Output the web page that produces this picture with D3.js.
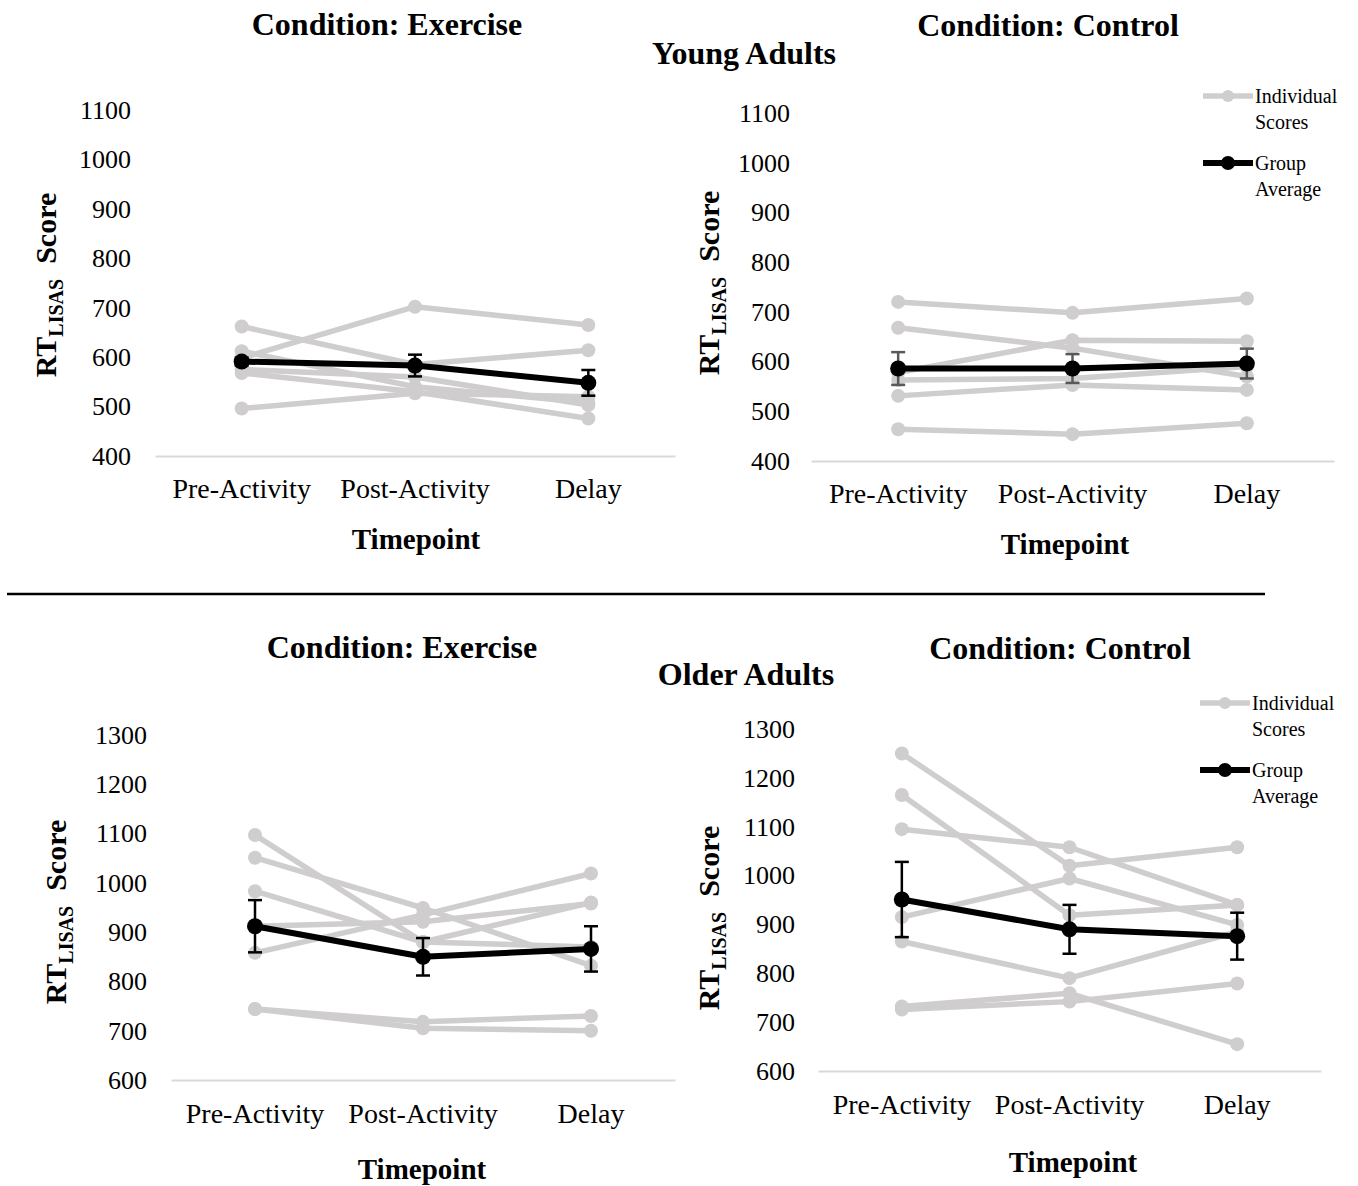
<!DOCTYPE html>
<html>
<head>
<meta charset="utf-8">
<script src="https://cdn.jsdelivr.net/npm/d3@7"></script>
<style>
  body { margin: 0; background: #fff; }
  svg text { font-family: "Liberation Serif", "Times New Roman", serif; fill: #000; }
</style>
</head>
<body>
<script>
'use strict';

// Data
const timepoints = ['Pre-Activity', 'Post-Activity', 'Delay'];

const youngExerciseScores = [
  [662, 585, 614],
  [598, 702, 665],
  [612, 540, 508],
  [575, 560, 503],
  [568, 530, 476],
  [496, 527, 520]
];
const youngExerciseMean = [591, 583, 548];
const youngExerciseErr = [8, 22, 26];

const youngControlScores = [
  [720, 698, 727],
  [668, 627, 570],
  [578, 643, 641],
  [563, 566, 590],
  [531, 553, 543],
  [464, 454, 476]
];
const youngControlMean = [586, 586, 596];
const youngControlErr = [33, 29, 30];

const olderExerciseScores = [
  [1097, 880, 960],
  [1051, 949, 832],
  [983, 880, 870],
  [858, 935, 1019],
  [912, 921, 958],
  [744, 718, 730],
  [744, 705, 700]
];
const olderExerciseMean = [912, 850, 866];
const olderExerciseErr = [53, 38, 46];

const olderControlScores = [
  [1250, 1020, 1058],
  [1165, 919, 940],
  [1095, 1058, 940],
  [915, 994, 899],
  [865, 790, 885],
  [732, 759, 655],
  [726, 742, 779]
];
const olderControlMean = [951, 890, 876];
const olderControlErr = [77, 50, 48];

const youngTicks = [400, 1100];
const olderTicks = [600, 1300];

// Layout
const GREY = '#cfcdcd';
const svg = d3.select('body').append('svg')
  .attr('width', 1358)
  .attr('height', 1186);

const panels = [
  { title: 'Condition: Exercise', titleX: 387, titleY: 35, scores: youngExerciseScores, mean: youngExerciseMean, err: youngExerciseErr,
    domain: youngTicks, xr: [155, 675], yr: [456, 110], tickRight: 131, catY: 500, axisTitleX: 416, axisTitleY: 549, yLabX: 45, yLabY: 285, errColor: '#000' },
  { title: 'Condition: Control', titleX: 1048, titleY: 36, scores: youngControlScores, mean: youngControlMean, err: youngControlErr,
    domain: youngTicks, xr: [811, 1334], yr: [461, 113], tickRight: 790, catY: 505, axisTitleX: 1065, axisTitleY: 554, yLabX: 708, yLabY: 283, errColor: '#595959',
    legend: { x: 1203, y: 96 } },
  { title: 'Condition: Exercise', titleX: 402, titleY: 658, scores: olderExerciseScores, mean: olderExerciseMean, err: olderExerciseErr,
    domain: olderTicks, xr: [171, 675], yr: [1080, 735], tickRight: 147, catY: 1125, axisTitleX: 422, axisTitleY: 1179, yLabX: 55, yLabY: 912, errColor: '#000' },
  { title: 'Condition: Control', titleX: 1060, titleY: 659, scores: olderControlScores, mean: olderControlMean, err: olderControlErr,
    domain: olderTicks, xr: [818, 1321], yr: [1071, 729], tickRight: 795, catY: 1116, axisTitleX: 1073, axisTitleY: 1172, yLabX: 708, yLabY: 918, errColor: '#000',
    legend: { x: 1200, y: 703 } }
];

const drawPanel = (p) => {
  const g = svg.append('g');

  const x = d3.scaleBand().domain(timepoints).range(p.xr);
  const cx = (i) => x(timepoints[i]) + x.bandwidth() / 2;
  const y = d3.scaleLinear().domain(p.domain).range(p.yr);

  // y axis (labels only)
  const yAxis = g.append('g')
    .attr('transform', `translate(${p.tickRight},0)`)
    .call(d3.axisLeft(y).ticks(8).tickSize(0).tickPadding(0).tickFormat(d3.format('d')));
  yAxis.select('.domain').remove();
  yAxis.selectAll('text')
    .attr('font-size', 26)
    .attr('font-family', '"Liberation Serif", serif')
    .attr('fill', '#000');

  // x axis baseline + categories
  const xAxis = g.append('g')
    .attr('transform', `translate(0,${p.yr[0]})`)
    .call(d3.axisBottom(x).tickSize(0).tickSizeOuter(0).tickPadding(p.catY - p.yr[0] - 22));
  xAxis.select('.domain').attr('stroke', '#d9d9d9').attr('stroke-width', 2);
  xAxis.selectAll('text')
    .attr('font-size', 28)
    .attr('font-family', '"Liberation Serif", serif')
    .attr('fill', '#000');

  const line = d3.line().x((_d, i) => cx(i)).y((d) => y(d));

  // Individual scores
  p.scores.forEach((s) => {
    g.append('path')
      .attr('d', line(s))
      .attr('fill', 'none')
      .attr('stroke', GREY)
      .attr('stroke-width', 5.5)
      .attr('stroke-linejoin', 'round');
    g.selectAll(null).data(s).enter().append('circle')
      .attr('cx', (_d, i) => cx(i))
      .attr('cy', (d) => y(d))
      .attr('r', 7)
      .attr('fill', GREY);
  });

  // Error bars
  p.mean.forEach((m, i) => {
    const e = p.err[i];
    const eg = g.append('g').attr('stroke', p.errColor).attr('stroke-width', 2.5);
    eg.append('line').attr('x1', cx(i)).attr('x2', cx(i)).attr('y1', y(m - e)).attr('y2', y(m + e));
    [m - e, m + e].forEach((v) => {
      eg.append('line').attr('x1', cx(i) - 7).attr('x2', cx(i) + 7).attr('y1', y(v)).attr('y2', y(v));
    });
  });

  // Group average
  g.append('path')
    .attr('d', line(p.mean))
    .attr('fill', 'none')
    .attr('stroke', '#000')
    .attr('stroke-width', 6)
    .attr('stroke-linejoin', 'round');
  g.selectAll(null).data(p.mean).enter().append('circle')
    .attr('cx', (_d, i) => cx(i))
    .attr('cy', (d) => y(d))
    .attr('r', 8)
    .attr('fill', '#000');

  // Titles
  g.append('text')
    .attr('x', p.titleX).attr('y', p.titleY)
    .attr('text-anchor', 'middle')
    .attr('font-size', 32).attr('font-weight', 'bold')
    .text(p.title);

  g.append('text')
    .attr('x', p.axisTitleX).attr('y', p.axisTitleY)
    .attr('text-anchor', 'middle')
    .attr('font-size', 29).attr('font-weight', 'bold')
    .text('Timepoint');

  const yl = g.append('text')
    .attr('transform', `translate(${p.yLabX},${p.yLabY}) rotate(-90)`)
    .attr('text-anchor', 'middle')
    .attr('font-size', 30).attr('font-weight', 'bold')
    .attr('dy', '0.35em');
  yl.append('tspan').text('RT');
  yl.append('tspan').attr('font-size', 20).attr('dy', 7).text('LISAS');
  yl.append('tspan').attr('dy', -7).text('\u00a0\u00a0Score');

  // Legend
  if (p.legend) {
    const L = p.legend;
    const items = [
      { color: GREY, w: 5.5, r: 6, lines: ['Individual', 'Scores'], dy: 0 },
      { color: '#000', w: 6, r: 7, lines: ['Group', 'Average'], dy: 67 }
    ];
    items.forEach((it) => {
      const ly = L.y + it.dy;
      g.append('line')
        .attr('x1', L.x).attr('x2', L.x + 50)
        .attr('y1', ly).attr('y2', ly)
        .attr('stroke', it.color).attr('stroke-width', it.w);
      g.append('circle').attr('cx', L.x + 25).attr('cy', ly).attr('r', it.r).attr('fill', it.color);
      it.lines.forEach((t, k) => {
        g.append('text')
          .attr('x', L.x + 52).attr('y', ly + 7 + k * 26)
          .attr('font-size', 20)
          .text(t);
      });
    });
  }
};

panels.forEach(drawPanel);

// Group headings and separator
svg.append('text').attr('x', 744).attr('y', 64).attr('text-anchor', 'middle')
  .attr('font-size', 32).attr('font-weight', 'bold').text('Young Adults');
svg.append('text').attr('x', 746).attr('y', 685).attr('text-anchor', 'middle')
  .attr('font-size', 32).attr('font-weight', 'bold').text('Older Adults');
svg.append('line').attr('x1', 7).attr('x2', 1265).attr('y1', 594).attr('y2', 594)
  .attr('stroke', '#000').attr('stroke-width', 2.5);
</script>
</body>
</html>
